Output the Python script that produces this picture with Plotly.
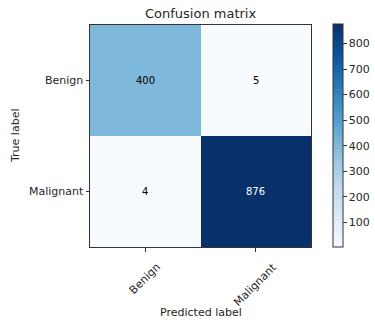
import plotly.graph_objects as go

classes = ["Benign", "Malignant"]
cm_values = [[400, 5], [4, 876]]
cbar_ticks = [100, 200, 300, 400, 500, 600, 700, 800]

blues = ["#f7fbff", "#deebf7", "#c6dbef", "#9ecae1", "#6baed6",
         "#4292c6", "#2171b5", "#08519c", "#08306b"]
colorscale = [[i / (len(blues) - 1), c] for i, c in enumerate(blues)]

zmin = min(min(r) for r in cm_values)
zmax = max(max(r) for r in cm_values)
thresh = zmax / 2

font = "DejaVu Sans"
txt = "#262626"
W, H = 375, 324
L, R, T, B = 90, 64, 25, 77

fig = go.Figure()
fig.add_trace(go.Heatmap(
    z=cm_values, x=[0, 1], y=[0, 1],
    colorscale=colorscale, zmin=zmin, zmax=zmax,
    xgap=0, ygap=0,
    colorbar=dict(
        x=(333 - L) / (W - L - R), xanchor="left", xref="paper",
        y=0, yanchor="bottom", len=223, lenmode="pixels",
        thickness=10, thicknessmode="pixels", xpad=0, ypad=0,
        outlinecolor="#333", outlinewidth=1,
        tickvals=cbar_ticks, ticks="outside", ticklen=3.5,
        tickcolor="#333", tickwidth=0.8,
        tickfont=dict(family=font, size=11, color=txt),
    ),
    hoverinfo="skip",
))

annotations = []
for i, row in enumerate(cm_values):
    for j, v in enumerate(row):
        annotations.append(dict(
            x=j, y=i, xref="x", yref="y", text=str(v), showarrow=False,
            font=dict(family=font, size=10,
                      color="white" if v > thresh else "black"),
        ))

for j, c in enumerate(classes):
    annotations.append(dict(
        x=j, y=0, xref="x", yref="paper", text=c, showarrow=False,
        textangle=-45, xanchor="center", yanchor="top", yshift=-11,
        font=dict(family=font, size=11, color=txt),
    ))

annotations.append(dict(text="Confusion matrix", x=0.5, y=1, xref="paper", yref="paper",
                        xanchor="center", yanchor="bottom", yshift=2, showarrow=False,
                        font=dict(family=font, size=13, color=txt)))
annotations.append(dict(text="Predicted label", x=0.5, y=0, xref="paper", yref="paper",
                        xanchor="center", yanchor="middle", yshift=-(312 - (H - B)), showarrow=False,
                        font=dict(family=font, size=11, color=txt)))
annotations.append(dict(text="True label", x=0, y=0.5, xref="paper", yref="paper",
                        xanchor="center", yanchor="middle", xshift=-(L - 15), textangle=-90,
                        showarrow=False, font=dict(family=font, size=11, color=txt)))

axis_common = dict(
    showgrid=False, zeroline=False, showline=True, linecolor="#333", linewidth=1,
    mirror=True, ticks="outside", ticklen=3.5, tickcolor="#333", tickwidth=0.8,
    tickfont=dict(family=font, size=11, color=txt), automargin=False,
)

fig.update_layout(
    width=W, height=H,
    margin=dict(l=L, r=R, t=T, b=B, pad=0, autoexpand=False),
    paper_bgcolor="white", plot_bgcolor="white",
    xaxis=dict(tickvals=[0, 1], ticktext=classes, showticklabels=False,
               range=[-0.5, 1.5], **axis_common),
    yaxis=dict(tickvals=[0, 1], ticktext=classes, range=[1.5, -0.5],
               **axis_common),
    annotations=annotations,
    showlegend=False,
)

fig.write_html("out.html", config={"displayModeBar": False})
